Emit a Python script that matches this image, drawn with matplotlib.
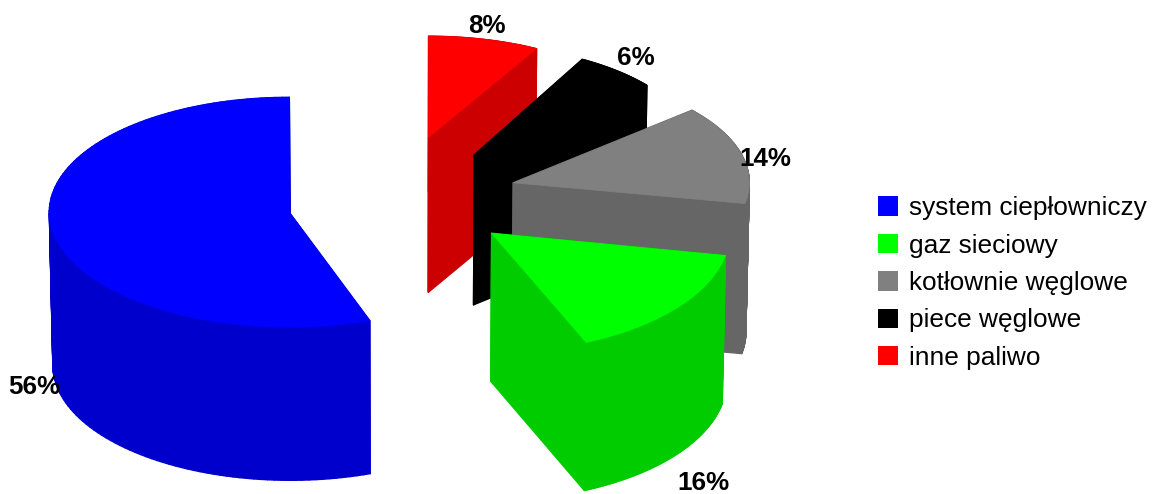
import numpy as np
import matplotlib
matplotlib.use('Agg')
import matplotlib.pyplot as plt
from matplotlib.collections import PolyCollection
from matplotlib.patches import Patch

plt.rcParams['font.family'] = ['Liberation Sans', 'DejaVu Sans']

labels = ['system ciepłowniczy', 'gaz sieciowy', 'kotłownie węglowe', 'piece węglowe', 'inne paliwo']
values = [56, 16, 14, 6, 8]
top_colors = ['#0000ff', '#00ff00', '#808080', '#000000', '#ff0000']
side_colors = ['#0000cc', '#00cc00', '#666666', '#000000', '#cc0000']

# label spots in pixels, same order as values
label_x = [34, 703, 765, 636, 487]
label_y = [387, 483, 159, 58, 26]

# the original has a bit of perspective, so each slice gets its own radii
slice_rx = [240, 238, 236, 224, 224]
slice_ry = [115, 119, 111, 109, 101]
slice_dx = [0, 2, 2, 4, 0]
slice_dy = [4, -1, -2, -3, -14]
slice_depth = [153, 148, 150, 150, 155]
# same perspective pulls the cut edges off the true angle, in degrees
start_shift = [0, 1.8, 0, 0, 0]
end_shift = [-2, 0, 1.2, 0, 0]

# back to front, nearer slices cover the others
draw_order = [0, 4, 3, 2, 1]

cx, cy = 402, 198
explode = 0.478
shrink = 0.01

fig = plt.figure(figsize=(11.57, 4.94), dpi=100)
ax = fig.add_axes([0, 0, 1, 1])
ax.set_xlim(0, 1157)
ax.set_ylim(494, 0)
ax.axis('off')

fracs = np.array(values) / sum(values)
stops = np.concatenate([[0], np.cumsum(fracs)]) * 2 * np.pi


def draw_slice(i, level):
    rx, ry = slice_rx[i], slice_ry[i]

    def project(u, v, z=0.0):
        x = cx + (rx * u + slice_dx[i]) * (1 - shrink * z)
        y = cy + ry * v + slice_dy[i] + slice_depth[i] * z
        return np.column_stack([x, y])

    t0, t1 = stops[i], stops[i + 1]
    mid = (t0 + t1) / 2
    ou, ov = -explode * np.sin(mid), -explode * np.cos(mid)
    t = np.linspace(t0 + np.radians(start_shift[i]), t1 + np.radians(end_shift[i]), 120)
    au, av = ou - np.sin(t), ov - np.cos(t)

    top = project(au, av, 0)
    bot = project(au, av, 1)
    apex_t = project(ou, ov, 0)[0]
    apex_b = project(ou, ov, 1)[0]

    # cut faces and wall strips, the hidden ones get covered by the top
    quads = [[apex_t, top[0], bot[0], apex_b], [apex_t, top[-1], bot[-1], apex_b]]
    for k in range(len(t) - 1):
        quads.append([top[k], top[k + 1], bot[k + 1], bot[k]])
    ax.add_collection(PolyCollection(quads, facecolors=side_colors[i], edgecolors=side_colors[i],
                                     linewidths=1.0, zorder=level))
    face = np.vstack([apex_t, top])
    ax.fill(face[:, 0], face[:, 1], color=top_colors[i], lw=0.5, zorder=level + 0.5)


for level, i in enumerate(draw_order):
    draw_slice(i, level + 1)

for v, x, y in zip(values, label_x, label_y):
    ax.text(x, y, f'{v}%', fontsize=18.7, fontweight='bold', ha='center', va='center', color='black', zorder=10)

handles = [Patch(facecolor=c, edgecolor='none') for c in top_colors]
ax.legend(handles, labels, loc='center left', bbox_to_anchor=(875 / 1157, 1 - 283 / 494), frameon=False,
          fontsize=18.9, handlelength=0.76, handleheight=0.76, handletextpad=0.42, labelspacing=0.51,
          borderpad=0.1, borderaxespad=0)

fig.savefig('out.png', dpi=100)
plt.close(fig)
